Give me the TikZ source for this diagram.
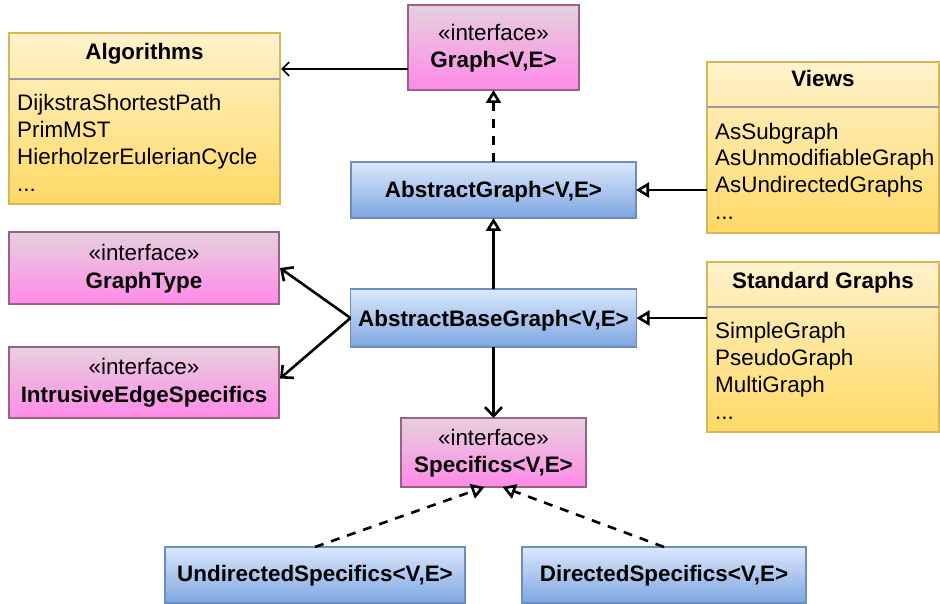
\documentclass[tikz,border=0pt]{standalone}
\usepackage{fontspec}
\setmainfont{Liberation Sans}
\usetikzlibrary{arrows.meta}
\definecolor{pinkTop}{HTML}{E6D0DE}
\definecolor{pinkBot}{HTML}{FF8AE8}
\definecolor{pinkLine}{HTML}{996185}
\definecolor{blueTop}{HTML}{DAE8FC}
\definecolor{blueBot}{HTML}{7EA6E0}
\definecolor{blueLine}{HTML}{6C8EBF}
\definecolor{yelTop}{HTML}{FFF2CC}
\definecolor{yelBot}{HTML}{FFD966}
\definecolor{yelLine}{HTML}{D6B656}
\definecolor{sepLine}{HTML}{9A9A9A}
\tikzset{
  box/.style={rectangle, inner sep=0pt, outer sep=0pt, line width=1.3pt},
  ibox/.style={box, draw=pinkLine, top color=pinkTop, bottom color=pinkBot},
  cbox/.style={box, draw=blueLine, top color=blueTop, bottom color=blueBot},
  pbox/.style={box, draw=yelLine, top color=yelTop, bottom color=yelBot},
  txt/.style={inner sep=0pt, anchor=base, font=\fontsize{22.4}{27}\selectfont},
  btxt/.style={inner sep=0pt, anchor=base, font=\fontsize{22.4}{27}\selectfont\bfseries},
  ltxt/.style={inner sep=0pt, anchor=base west, align=left, font=\fontsize{22.4}{27}\selectfont},
  sepline/.style={draw=sepLine, line width=1.5pt},
  inherit/.style={line width=2.6pt, -{Triangle[open, length=13pt, width=15pt, line width=2.6pt]}},
  realize/.style={inherit, dash pattern=on 9pt off 8pt},
  uses/.style={line width=2.6pt, -{Straight Barb[length=9pt, width=17pt, line width=2.6pt]}},
  assocline/.style={line width=1.6pt, -{Straight Barb[length=7pt, width=14pt, line width=1.6pt]}},
}
\begin{document}
\begin{tikzpicture}[x=1pt,y=-1pt]
\useasboundingbox (0,0) rectangle (940,604);

% Algorithms
\node[pbox, minimum width=271pt, minimum height=171pt] (alg) at (144.5,118.5) {};
\draw[sepline] (alg.west |- 0,79) -- (alg.east |- 0,79);
\node[btxt] (algT) at (144.5,60) {Algorithms};
\node[ltxt] (algI) at (17,192) {DijkstraShortestPath\\PrimMST\\HierholzerEulerianCycle\\...};

% Graph interface
\node[ibox, minimum width=171pt, minimum height=85pt] (graph) at (493.5,47.5) {};
\node[txt] (graphS) at (493.5,41) {«interface»};
\node[btxt] (graphN) at (493.5,68) {Graph<V,E>};

% Views
\node[pbox, minimum width=232pt, minimum height=171pt] (views) at (823,147.5) {};
\draw[sepline] (views.west |- 0,107) -- (views.east |- 0,107);
\node[btxt] (viewsT) at (823,87) {Views};
\node[ltxt] (viewsI) at (715,220) {AsSubgraph\\AsUnmodifiableGraph\\AsUndirectedGraphs\\...};

% AbstractGraph
\node[cbox, minimum width=285pt, minimum height=56pt] (ag) at (493.5,190) {};
\node[btxt] (agN) at (493.5,198) {AbstractGraph<V,E>};

% GraphType
\node[ibox, minimum width=270pt, minimum height=72pt] (gt) at (144,268) {};
\node[txt] (gtS) at (144,261) {«interface»};
\node[btxt] (gtN) at (144,288) {GraphType};

% IntrusiveEdgeSpecifics
\node[ibox, minimum width=270pt, minimum height=71pt] (ie) at (144,382.5) {};
\node[txt] (ieS) at (144,374) {«interface»};
\node[btxt] (ieN) at (144,402) {IntrusiveEdgeSpecifics};

% AbstractBaseGraph
\node[cbox, minimum width=286pt, minimum height=58pt] (abg) at (493.5,318) {};
\node[btxt] (abgN) at (493.5,326) {AbstractBaseGraph<V,E>};

% Standard Graphs
\node[pbox, minimum width=232pt, minimum height=170pt] (std) at (823,347) {};
\draw[sepline] (std.west |- 0,307) -- (std.east |- 0,307);
\node[btxt] (stdT) at (823,288) {Standard Graphs};
\node[ltxt] (stdI) at (715,419) {SimpleGraph\\PseudoGraph\\MultiGraph\\...};

% Specifics
\node[ibox, minimum width=185pt, minimum height=69pt] (spec) at (493.5,452.5) {};
\node[txt] (specS) at (493.5,445) {«interface»};
\node[btxt] (specN) at (493.5,472) {Specifics<V,E>};

% Undirected / Directed
\node[cbox, minimum width=300pt, minimum height=56pt] (us) at (315,575) {};
\node[btxt] (usN) at (315,581) {UndirectedSpecifics<V,E>};
\node[cbox, minimum width=284pt, minimum height=56pt] (ds) at (664,575) {};
\node[btxt] (dsN) at (664,581) {DirectedSpecifics<V,E>};

% connectors
\coordinate (ga) at ([yshift=-21.5pt]graph.west);
\draw[assocline] (ga) -- ([xshift=1pt]alg.east |- ga);
\draw[realize] (ag.north) -- (graph.south);
\draw[inherit] (views.west |- ag.east) -- (ag.east);
\draw[inherit] (abg.north) -- (ag.south);
\draw[inherit] (std.west |- abg.east) -- (abg.east);
\draw[uses] (abg.west) -- ([xshift=1pt]gt.east);
\draw[uses] (abg.west) -- ([xshift=1pt,yshift=4pt]ie.east);
\draw[uses] (abg.south) -- (spec.north);
\draw[realize] (us.north) -- ([xshift=-9pt]spec.south);
\draw[realize] (ds.north) -- ([xshift=9pt]spec.south);
\end{tikzpicture}
\end{document}
